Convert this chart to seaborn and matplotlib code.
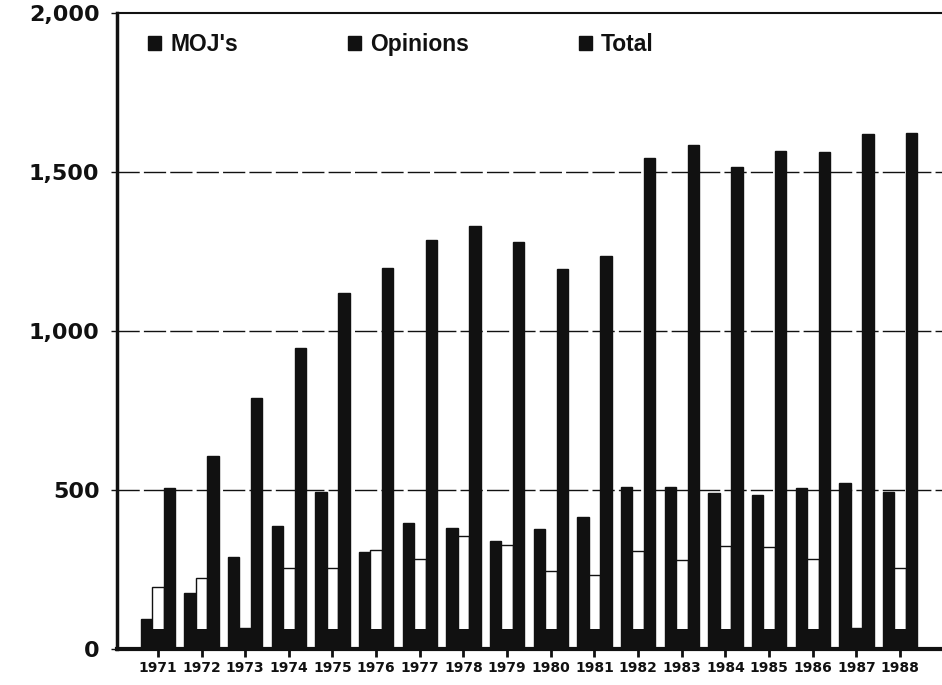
import pandas as pd
import matplotlib
matplotlib.use('Agg')
import matplotlib.pyplot as plt
import seaborn as sns
from matplotlib.patches import Patch
from matplotlib.ticker import FuncFormatter

# --- values ---
years = ['1971', '1972', '1973', '1974', '1975', '1976', '1977', '1978', '1979',
         '1980', '1981', '1982', '1983', '1984', '1985', '1986', '1987', '1988']
mojs = [94, 176, 289, 387, 494, 305, 396, 380, 340,
        377, 415, 510, 509, 490, 484, 506, 522, 494]
opinions = [195, 223, 65, 255, 255, 310, 283, 355, 327,
            245, 232, 308, 280, 323, 321, 283, 65, 255]
totals = [506, 607, 789, 947, 1120, 1198, 1286, 1330, 1280,
          1195, 1236, 1544, 1585, 1516, 1566, 1563, 1620, 1623]
# dark base band visible at the foot of the Opinions bars
opinions_base = [62] * len(years)

series = ["MOJ's", 'Opinions', 'Total']
y_ticks = [0, 500, 1000, 1500, 2000]

ink = '#111111'

df = pd.DataFrame({
    'year': years * 3,
    'series': [series[0]] * len(years) + [series[1]] * len(years) + [series[2]] * len(years),
    'value': mojs + opinions + totals,
})
df_base = pd.DataFrame({
    'year': years * 3,
    'series': [series[0]] * len(years) + [series[1]] * len(years) + [series[2]] * len(years),
    'value': [0] * len(years) + opinions_base + [0] * len(years),
})

sns.set_style('white')

fig = plt.figure(figsize=(9.42, 6.85), dpi=100)
ax = fig.add_axes([0.124, 0.053, 0.876, 0.928])

sns.barplot(data=df, x='year', y='value', hue='series', hue_order=series,
            palette={series[0]: ink, series[1]: 'white', series[2]: ink},
            width=0.79, edgecolor=ink, linewidth=1.0, saturation=1,
            legend=False, ax=ax, zorder=3)
sns.barplot(data=df_base, x='year', y='value', hue='series', hue_order=series,
            palette={s: ink for s in series}, width=0.79, linewidth=0,
            saturation=1, legend=False, ax=ax, zorder=4)

ax.set_xlim(-0.94, 17.96)
ax.set_ylim(0, 2000)
ax.set_yticks(y_ticks)
ax.yaxis.set_major_formatter(FuncFormatter(lambda v, p: f'{int(v):,}'))
ax.set_xlabel('')
ax.set_ylabel('')

# dashed horizontal gridlines
for v in y_ticks[1:-1]:
    ax.axhline(v, color=ink, linewidth=1.0, linestyle=(0, (16, 3)), zorder=1)

ax.spines['right'].set_visible(False)
ax.spines['left'].set_linewidth(2.5)
ax.spines['bottom'].set_linewidth(3)
ax.spines['top'].set_linewidth(1.5)
for s in ['left', 'bottom', 'top']:
    ax.spines[s].set_color(ink)
    ax.spines[s].set_zorder(5)

ax.tick_params(axis='y', direction='out', length=4.5, width=1, color=ink, pad=8,
               left=True)
ax.tick_params(axis='x', direction='out', length=6, width=2, color=ink, pad=3,
               bottom=True)
for lab in ax.get_yticklabels():
    lab.set_fontfamily('DejaVu Sans')
    lab.set_fontweight('bold')
    lab.set_fontsize(16)
    lab.set_color(ink)
for lab in ax.get_xticklabels():
    lab.set_fontfamily('DejaVu Sans')
    lab.set_fontweight('bold')
    lab.set_fontsize(10)
    lab.set_color(ink)

handles = [Patch(facecolor=ink, edgecolor=ink, label=s) for s in series]
ax.legend(handles=handles, ncol=3, loc='center left', bbox_to_anchor=(0.0376, 0.95),
          frameon=False, borderaxespad=0, borderpad=0,
          handlelength=0.57, handleheight=0.57, handletextpad=0.4,
          columnspacing=4.8, labelcolor=ink,
          prop={'family': 'Liberation Sans', 'weight': 'bold', 'size': 16.5})

plt.savefig('out.png', dpi=100)
plt.close()
